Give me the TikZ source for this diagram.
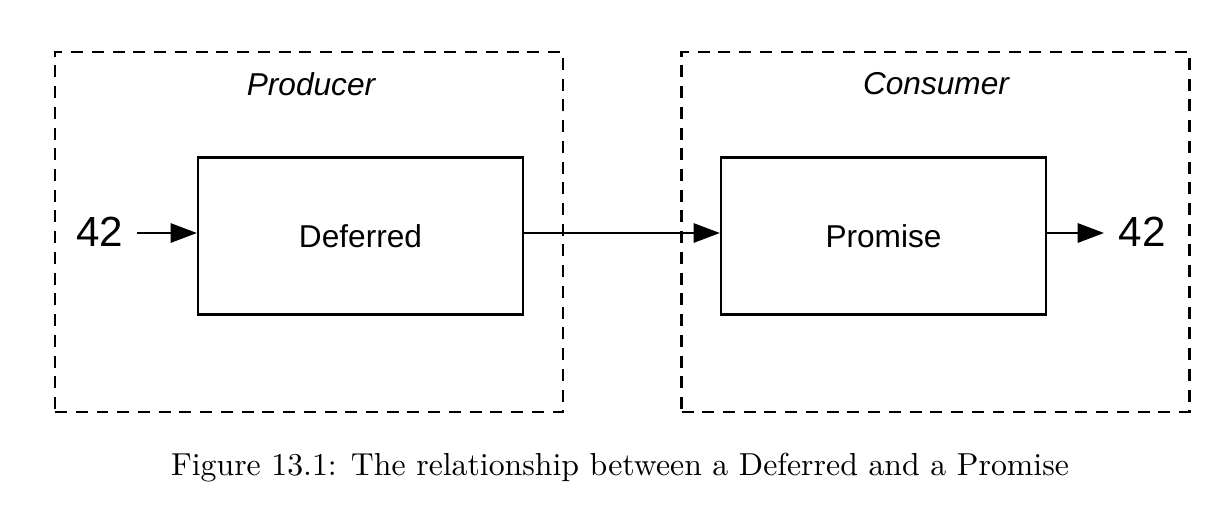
\documentclass[tikz,border=0pt]{standalone}
\usepackage{fontspec}
\usetikzlibrary{arrows.meta}
\newfontfamily\helv{Liberation Sans}
\newfontfamily\capfont{lmroman10-regular}[Extension=.otf]
\tikzset{
  group/.style={draw, dashed, dash pattern=on 6.8pt off 5pt, line width=1.4pt, minimum width=10.16cm, minimum height=7.2cm},
  block/.style={draw, line width=1.3pt, minimum width=6.5cm, minimum height=3.14cm, font=\helv\fontsize{18}{22}\selectfont},
  val/.style={font=\helv\fontsize{24}{28}\selectfont, inner sep=2pt},
  flow/.style={line width=1.2pt, -{Triangle[length=15pt,width=11pt]}}
}
\begin{document}
\begin{tikzpicture}[x=0.02cm, y=-0.02cm]
\useasboundingbox (0,0) rectangle (1208,508);
\node[group] (prod) at (309,232) {};
\node[group] (cons) at (935.5,232) {};
\node[font=\helv\itshape\fontsize{18}{22}\selectfont] (prodlbl) at (311,84) {Producer};
\node[font=\helv\itshape\fontsize{18}{22}\selectfont] (conslbl) at (936,84) {Consumer};
\node[block] (def) at (360.5,236) {Deferred};
\node[block] (prom) at (883.5,236) {Promise};
\node[val] (in) at (100,232) {42};
\node[val] (out) at (1142,232) {42};
\coordinate (instart) at (137,233);
\coordinate (outend) at (1104,233);
\draw[flow] (instart) -- (def.west |- instart);
\draw[flow] (def.east |- instart) -- (prom.west |- instart);
\draw[flow] (prom.east |- instart) -- (outend);
\node[font=\capfont\fontsize{18.1}{22}\selectfont] (cap) at (620,468) {Figure 13.1: The relationship between a Deferred and a Promise};
\end{tikzpicture}
\end{document}
